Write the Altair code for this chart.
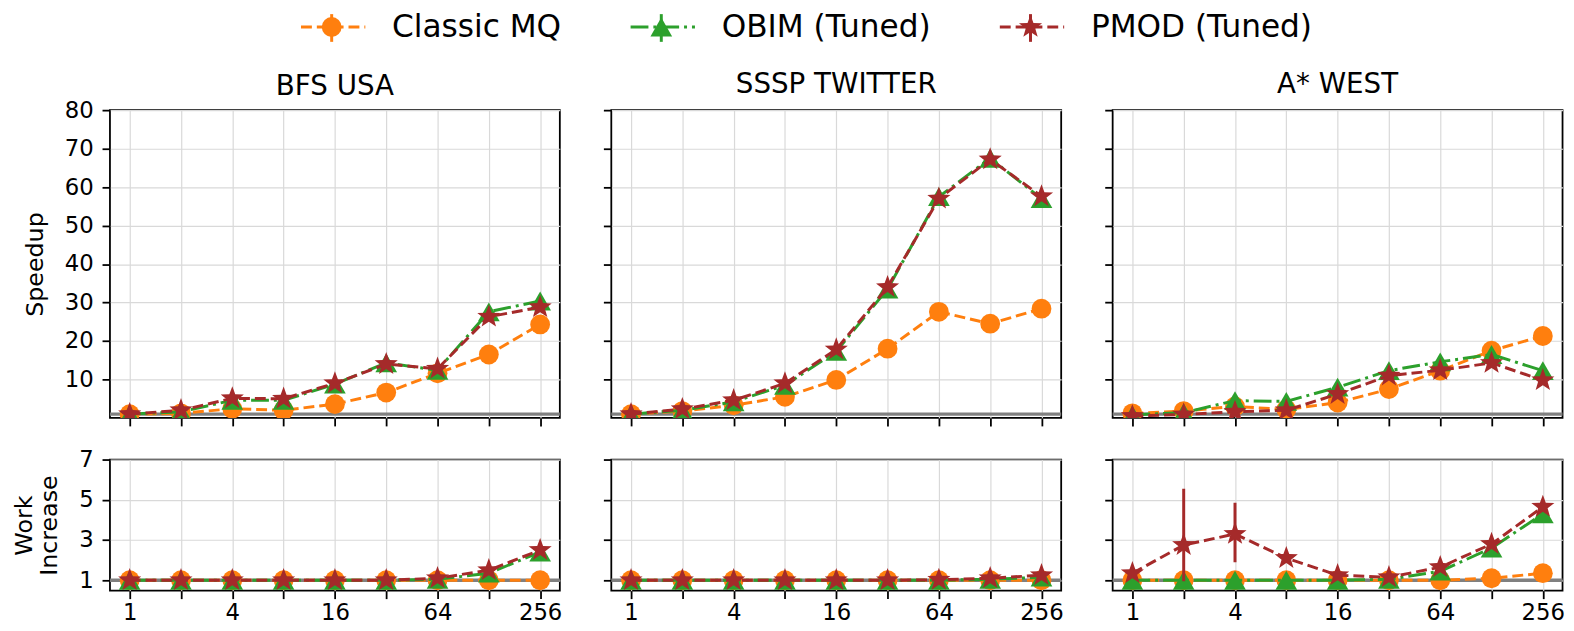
import altair as alt
import pandas as pd

THREADS = [1, 2, 4, 8, 16, 32, 64, 128, 256]
SERIES = ["Classic MQ", "OBIM (Tuned)", "PMOD (Tuned)"]
PANELS = ["BFS USA", "SSSP TWITTER", "A* WEST"]
COLORS = ["#ff7f0e", "#2ca02c", "#a52a2a"]

# ---- Speedup (top row) ----
BFS_SPEEDUP_CLASSIC = [1.0, 1.2, 2.4, 2.0, 3.6, 6.6, 11.6, 16.5, 24.3]
BFS_SPEEDUP_OBIM = [1.0, 1.6, 4.6, 4.6, 8.8, 14.3, 12.4, 27.6, 30.4]
BFS_SPEEDUP_PMOD = [1.0, 2.0, 5.1, 5.0, 9.0, 14.0, 12.8, 26.3, 28.8]

SSSP_SPEEDUP_CLASSIC = [1.0, 1.8, 3.3, 5.5, 9.9, 18.0, 27.6, 24.5, 28.4]
SSSP_SPEEDUP_OBIM = [1.0, 2.0, 4.2, 8.5, 17.3, 33.5, 57.5, 67.5, 57.0]
SSSP_SPEEDUP_PMOD = [1.0, 2.3, 4.6, 9.0, 17.8, 34.0, 57.0, 67.2, 57.6]

ASTAR_SPEEDUP_CLASSIC = [1.2, 1.8, 3.0, 2.2, 4.0, 7.5, 12.3, 17.5, 21.3]
ASTAR_SPEEDUP_OBIM = [0.8, 1.4, 4.5, 4.3, 8.0, 12.3, 14.6, 16.5, 12.3]
ASTAR_SPEEDUP_PMOD = [0.5, 0.9, 1.6, 2.0, 6.2, 11.0, 12.4, 14.3, 9.8]

# ---- Work increase (bottom row) ----
BFS_WORK_CLASSIC = [1.0, 1.0, 1.0, 1.0, 1.0, 1.0, 1.0, 1.0, 1.0]
BFS_WORK_OBIM = [1.0, 1.0, 1.0, 1.0, 1.0, 1.0, 1.05, 1.35, 2.4]
BFS_WORK_PMOD = [1.0, 1.0, 1.0, 1.0, 1.0, 1.0, 1.1, 1.5, 2.5]

SSSP_WORK_CLASSIC = [1.0, 1.0, 1.0, 1.0, 1.0, 1.0, 1.0, 1.0, 1.0]
SSSP_WORK_OBIM = [1.0, 1.0, 1.0, 1.0, 1.0, 1.0, 1.0, 1.05, 1.15]
SSSP_WORK_PMOD = [1.0, 1.0, 1.0, 1.0, 1.0, 1.0, 1.02, 1.1, 1.25]

ASTAR_WORK_CLASSIC = [1.0, 1.0, 1.0, 1.0, 1.0, 1.0, 1.0, 1.1, 1.35]
ASTAR_WORK_OBIM = [1.0, 1.0, 1.0, 1.0, 1.0, 1.05, 1.45, 2.6, 4.3]
ASTAR_WORK_PMOD = [1.35, 2.75, 3.3, 2.1, 1.25, 1.15, 1.65, 2.8, 4.65]

# error bars (A* WEST, PMOD, work increase)
ERR_THREADS = [2, 4]
ERR_LO = [0.95, 1.9]
ERR_HI = [5.55, 4.85]

VALUES = {
    ("BFS USA", "speedup"): [BFS_SPEEDUP_CLASSIC, BFS_SPEEDUP_OBIM, BFS_SPEEDUP_PMOD],
    ("SSSP TWITTER", "speedup"): [SSSP_SPEEDUP_CLASSIC, SSSP_SPEEDUP_OBIM, SSSP_SPEEDUP_PMOD],
    ("A* WEST", "speedup"): [ASTAR_SPEEDUP_CLASSIC, ASTAR_SPEEDUP_OBIM, ASTAR_SPEEDUP_PMOD],
    ("BFS USA", "work"): [BFS_WORK_CLASSIC, BFS_WORK_OBIM, BFS_WORK_PMOD],
    ("SSSP TWITTER", "work"): [SSSP_WORK_CLASSIC, SSSP_WORK_OBIM, SSSP_WORK_PMOD],
    ("A* WEST", "work"): [ASTAR_WORK_CLASSIC, ASTAR_WORK_OBIM, ASTAR_WORK_PMOD],
}

rows = []
for (panel, metric), lists in VALUES.items():
    for s, vals in zip(SERIES, lists):
        for t, v in zip(THREADS, vals):
            rows.append({"panel": panel, "metric": metric, "series": s, "threads": t, "value": v})
df = pd.DataFrame(rows)

err_df = pd.DataFrame({"threads": ERR_THREADS, "lo": ERR_LO, "hi": ERR_HI})
ref_df = pd.DataFrame({"ref": [1.0]})
leg_df = pd.DataFrame({"series": SERIES})

FONT = "DejaVu Sans"
DASHES = [[11, 5], [18, 5, 3, 5], [11, 5]]
STAR = ("M0,-1.2L0.29,-0.4L1.14,-0.37L0.47,0.15L0.71,0.97L0,0.49L-0.71,0.97"
        "L-0.47,0.15L-1.14,-0.37L-0.29,-0.4Z")
SHAPES = ["circle", "triangle-up", STAR]
SIZES = [400, 480, 420]

W = 454.5
H_TOP = 311
H_BOT = 132.5


def make_panel(pi, metric):
    panel = PANELS[pi]
    top = metric == "speedup"
    left = pi == 0
    xenc = alt.X(
        "threads:Q",
        scale=alt.Scale(type="log", base=2, domain=[0.766, 334], nice=False),
        axis=alt.Axis(
            values=THREADS,
            labels=not top,
            labelExpr="indexof([1,4,16,64,256], datum.value) >= 0 ? format(datum.value, 'd') : ''",
            title=None,
        ),
    )
    if top:
        yscale = alt.Scale(domain=[0, 80], nice=False, zero=False)
        yvals = [10, 20, 30, 40, 50, 60, 70, 80]
        ytitle = "Speedup"
    else:
        yscale = alt.Scale(domain=[0.48, 7], nice=False, zero=False)
        yvals = [1, 3, 5, 7]
        ytitle = ["Work", "Increase"]
    if left:
        yaxis = alt.Axis(values=yvals, labels=True, title=ytitle)
    else:
        yaxis = alt.Axis(values=yvals, labels=False, title=None)
    yenc = alt.Y("value:Q", scale=yscale, axis=yaxis)

    base = alt.Chart(df).transform_filter(
        (alt.datum.panel == panel) & (alt.datum.metric == metric)
    )
    layers = [
        alt.Chart(ref_df).mark_rule(color="#808080", strokeWidth=3.5).encode(
            y=alt.Y("ref:Q", scale=yscale, axis=yaxis)
        )
    ]
    for si, s in enumerate(SERIES):
        sb = base.transform_filter(alt.datum.series == s)
        layers.append(
            sb.mark_line(color=COLORS[si], strokeWidth=3, strokeDash=DASHES[si], clip=True)
            .encode(x=xenc, y=yenc)
        )
        if panel == "A* WEST" and metric == "work" and s == "PMOD (Tuned)":
            layers.append(
                alt.Chart(err_df).mark_rule(color=COLORS[si], strokeWidth=3, clip=True).encode(
                    x=xenc,
                    y=alt.Y("lo:Q", scale=yscale, axis=yaxis),
                    y2="hi:Q",
                )
            )
        layers.append(
            sb.mark_point(shape=SHAPES[si], size=SIZES[si], filled=True, opacity=1,
                          color=COLORS[si], clip=True)
            .encode(x=xenc, y=yenc)
        )
    props = dict(width=W, height=H_TOP if top else H_BOT)
    if top:
        props["title"] = alt.TitleParams(panel, fontSize=28, font=FONT, fontWeight="normal",
                                         offset=-1.5 if left else 10, color="black")
    return alt.layer(*layers).properties(**props)


top_row = alt.hconcat(*[make_panel(i, "speedup") for i in range(3)], spacing=38.5)
bot_row = alt.hconcat(*[make_panel(i, "work") for i in range(3)], spacing=38.5)
grid = alt.vconcat(top_row, bot_row, spacing=20)

# ---- legend row (layout positions in pixels) ----
LEG_X = [224, 557, 930]
LEG_Y = 13
leg_layers = []
for si, s in enumerate(SERIES):
    cx = LEG_X[si]
    lb = alt.Chart(leg_df).transform_filter(alt.datum.series == s)
    leg_layers.append(
        lb.mark_rule(color=COLORS[si], strokeWidth=3, strokeDash=DASHES[si]).encode(
            x=alt.value(cx - 31), x2=alt.value(cx + 34), y=alt.value(LEG_Y))
    )
    leg_layers.append(
        lb.mark_rule(color=COLORS[si], strokeWidth=3).encode(
            x=alt.value(cx), y=alt.value(LEG_Y - 13), y2=alt.value(LEG_Y + 15))
    )
    leg_layers.append(
        lb.mark_point(shape=SHAPES[si], size=SIZES[si], filled=True, opacity=1,
                      color=COLORS[si]).encode(x=alt.value(cx), y=alt.value(LEG_Y))
    )
    leg_layers.append(
        lb.mark_text(align="left", baseline="middle", fontSize=31.5, font=FONT,
                     color="black").encode(x=alt.value(cx + 61), y=alt.value(LEG_Y + 1),
                                           text="series:N")
    )
legend_chart = alt.layer(*leg_layers).properties(
    width=W * 3 + 2 * 46.5, height=40, view=alt.ViewBackground(stroke="transparent")
)

chart = (
    alt.vconcat(legend_chart, grid, spacing=16)
    .properties(padding={"left": 3, "top": 0, "right": 0, "bottom": 0})
    .configure_view(stroke="black", strokeWidth=1.8)
    .configure_axis(
        domain=False,
        grid=True,
        gridColor="#d9d9d9",
        gridWidth=1.2,
        tickColor="black",
        tickWidth=1.8,
        tickSize=8,
        labelFont=FONT,
        labelFontSize=23,
        labelColor="black",
        titleFont=FONT,
        titleFontSize=24,
        titleFontWeight="normal",
        titleColor="black",
        titlePadding=17,
    )
    .configure_axisX(labelPadding=3)
    .configure_axisY(labelPadding=9)
)

chart.save("out.html", embed_options={"renderer": "svg", "actions": False})
